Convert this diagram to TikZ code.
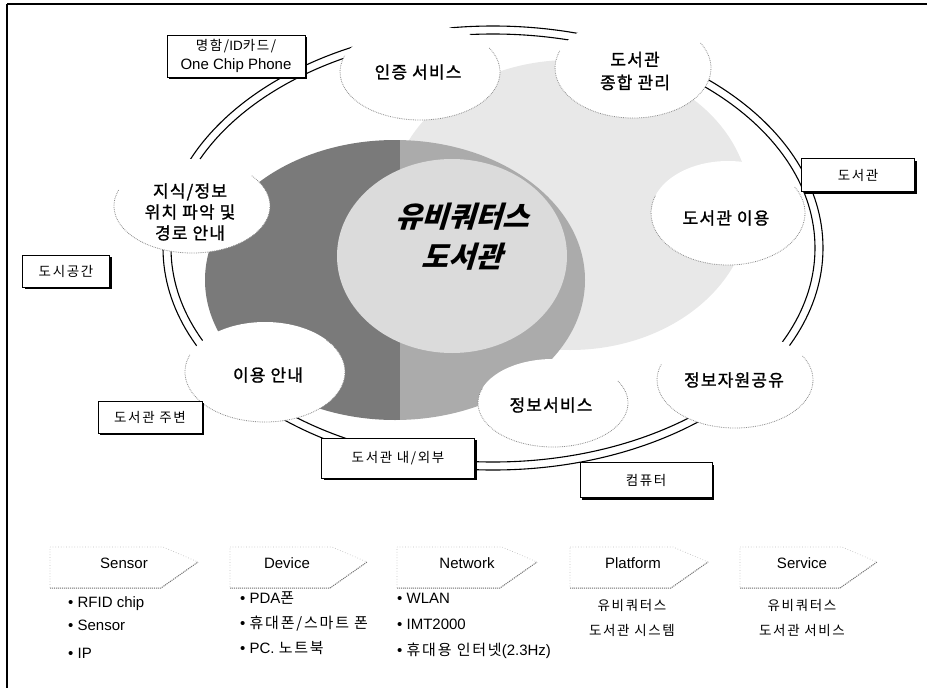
\documentclass[tikz,border=0pt]{standalone}
\usepackage{fontspec}
\setmainfont{Noto Sans CJK KR}
\newfontfamily\lat{Liberation Sans}
\newfontfamily\boxfont[LetterSpace=12]{Noto Sans CJK KR}
\newfontfamily\cloudfont[LetterSpace=7,FakeBold=1.2]{Noto Sans CJK KR}
\newfontfamily\titlefont[FakeSlant=0.3]{Noto Sans CJK KR}
\usetikzlibrary{shadows,calc,shapes.geometric}

\begin{document}
\begin{tikzpicture}[x=1pt,y=-1pt,
  lbl/.style={draw=black, line width=0.9pt, fill=white, inner sep=0pt,
    font=\boxfont\fontsize{13.5}{19}\selectfont, align=center,
    drop shadow={shadow xshift=2pt, shadow yshift=-2pt, fill=black, opacity=1}},
  cloudfill/.style={ellipse, fill=white, inner sep=0pt},
  cloudline/.style={draw=black!45, densely dotted, line width=0.8pt},
  ctext/.style={font=\cloudfont\fontsize{17}{23}\selectfont, align=center, inner sep=0pt},
  ring/.style={line width=1.1pt},
  chev/.style={draw=black!25, dotted, line width=0.7pt},
  chevlow/.style={draw=black!55, densely dotted, line width=1pt},
  chevtext/.style={font=\lat\fontsize{15}{17}\selectfont, inner sep=0pt},
  item/.style={anchor=base west, inner sep=0pt, font=\fontsize{15}{17}\selectfont},
  pitem/.style={anchor=base, inner sep=0pt, font=\boxfont\fontsize{13.5}{17}\selectfont},
]
\useasboundingbox (0,0) rectangle (927,691);
% frame
\draw[line width=1.4pt] (7,4) -- (927,4);
\draw[line width=1.4pt] (7,4) -- (7,688);

% light stipple region
\fill[black!9] (570,205) ellipse [x radius=180pt, y radius=145pt];
% dark blob
\begin{scope}
  \clip (395,280) ellipse [x radius=190pt, y radius=140pt];
  \fill[black!52] (190,120) rectangle (400,440);
  \fill[black!33] (400,120) rectangle (600,440);
\end{scope}
% inner light ellipse
\fill[black!14] (452,256) ellipse [x radius=115pt, y radius=97pt];

% ring
\draw[ring] (493,248) ellipse [x radius=330pt, y radius=222pt];
\draw[ring] (493,248) ellipse [x radius=322pt, y radius=214pt];

% clouds
\node[cloudfill, minimum width=160pt, minimum height=96pt] (c1) at (420,72) {};
\node[cloudfill, minimum width=156pt, minimum height=100pt] (c2) at (633,68) {};
\node[cloudfill, minimum width=154pt, minimum height=104pt] (c3) at (728,213) {};
\node[cloudfill, minimum width=156pt, minimum height=96pt] (c4) at (735,380) {};
\node[cloudfill, minimum width=150pt, minimum height=88pt] (c5) at (553,403) {};
\node[cloudfill, minimum width=160pt, minimum height=100pt] (c6) at (265,372) {};
\node[cloudfill, minimum width=156pt, minimum height=94pt] (c7) at (192,206) {};

\draw[cloudline] ([shift={(30:80pt and 48pt)}]c1.center) arc[start angle=30,end angle=-200,x radius=80pt,y radius=48pt];
\draw[cloudline] ([shift={(30:78pt and 50pt)}]c2.center) arc[start angle=30,end angle=-200,x radius=78pt,y radius=50pt];
\draw[cloudline] ([shift={(30:77pt and 52pt)}]c3.center) arc[start angle=30,end angle=-200,x radius=77pt,y radius=52pt];
\draw[cloudline] ([shift={(30:78pt and 48pt)}]c4.center) arc[start angle=30,end angle=-200,x radius=78pt,y radius=48pt];
\draw[cloudline] ([shift={(30:75pt and 44pt)}]c5.center) arc[start angle=30,end angle=-200,x radius=75pt,y radius=44pt];
\draw[cloudline] ([shift={(40:80pt and 50pt)}]c6.center) arc[start angle=40,end angle=-200,x radius=80pt,y radius=50pt];
\draw[cloudline] ([shift={(40:78pt and 47pt)}]c7.center) arc[start angle=40,end angle=-200,x radius=78pt,y radius=47pt];

% cloud texts
\node[ctext] (t1) at (418,72) {인증 서비스};
\node[ctext] (t2) at (635,71) {도서관\\종합 관리};
\node[ctext] (t3) at (726,218) {도서관 이용};
\node[ctext] (t4) at (734,380) {정보자원공유};
\node[ctext] (t5) at (551,405) {정보서비스};
\node[ctext] (t6) at (268,375) {이용 안내};
\node[ctext, font=\cloudfont\fontsize{17}{21}\selectfont] (t7) at (190,212) {지식/정보\\위치 파악 및\\경로 안내};

% title
\node[align=center, inner sep=0pt, font=\titlefont\bfseries\fontsize{29}{40}\selectfont] (title) at (462,237) {유비쿼터스\\도서관};

% label boxes
\node[lbl, minimum width=138pt, minimum height=42pt] (bcard) at (236,56) {명함/{\lat ID}카드/\\{\lat\fontsize{15}{19}\selectfont One Chip Phone}};
\node[lbl, minimum width=113pt, minimum height=33pt] (blib) at (858,175) {도서관};
\node[lbl, minimum width=87pt, minimum height=32pt] (bcity) at (66,271) {도시공간};
\node[lbl, minimum width=104pt, minimum height=32pt] (baround) at (150,417) {도서관 주변};
\node[lbl, minimum width=153pt, minimum height=40pt] (binout) at (398,458) {도서관 내/외부};
\node[lbl, minimum width=132pt, minimum height=35pt] (bpc) at (646,480) {컴퓨터};

% chevrons
\foreach \x/\w/\cx/\lab [count=\i] in {50/148/124/Sensor, 230/137/287/Device, 397/140/467/Network, 570/138/633/Platform, 740/137/802/Service}{
  \draw[chev] (\x,547) -- ({\x+\w-35},547) -- ({\x+\w},562) -- ({\x+\w-37},588) -- (\x,588) -- cycle;
  \draw[chevlow] (\x,588) -- ({\x+\w-37},588) -- ({\x+\w},562);
  \node[chevtext] (h\i) at (\cx,563) {\lab};
}

% lists
\node[item] (s1) at (68,607) {\lat • RFID chip};
\node[item] (s2) at (68,630) {\lat • Sensor};
\node[item] (s3) at (68,658) {\lat • IP};

\node[item] (d1) at (240,603) {{\lat • PDA}{\boxfont 폰}};
\node[item] (d2) at (240,628) {{\lat • }{\boxfont 휴대폰/스마트 폰}};
\node[item] (d3) at (240,653) {{\lat • PC. }{\boxfont 노트북}};

\node[item] (n1) at (397,603) {\lat • WLAN};
\node[item] (n2) at (397,629) {\lat • IMT2000};
\node[item] (n3) at (397,655) {{\lat • }{\boxfont 휴대용 인터넷}{\lat (2.3Hz)}};

\node[pitem] (p1) at (632,610) {유비쿼터스};
\node[pitem] (p2) at (632,635) {도서관 시스템};
\node[pitem] (v1) at (802,610) {유비쿼터스};
\node[pitem] (v2) at (802,635) {도서관 서비스};
\end{tikzpicture}
\end{document}
